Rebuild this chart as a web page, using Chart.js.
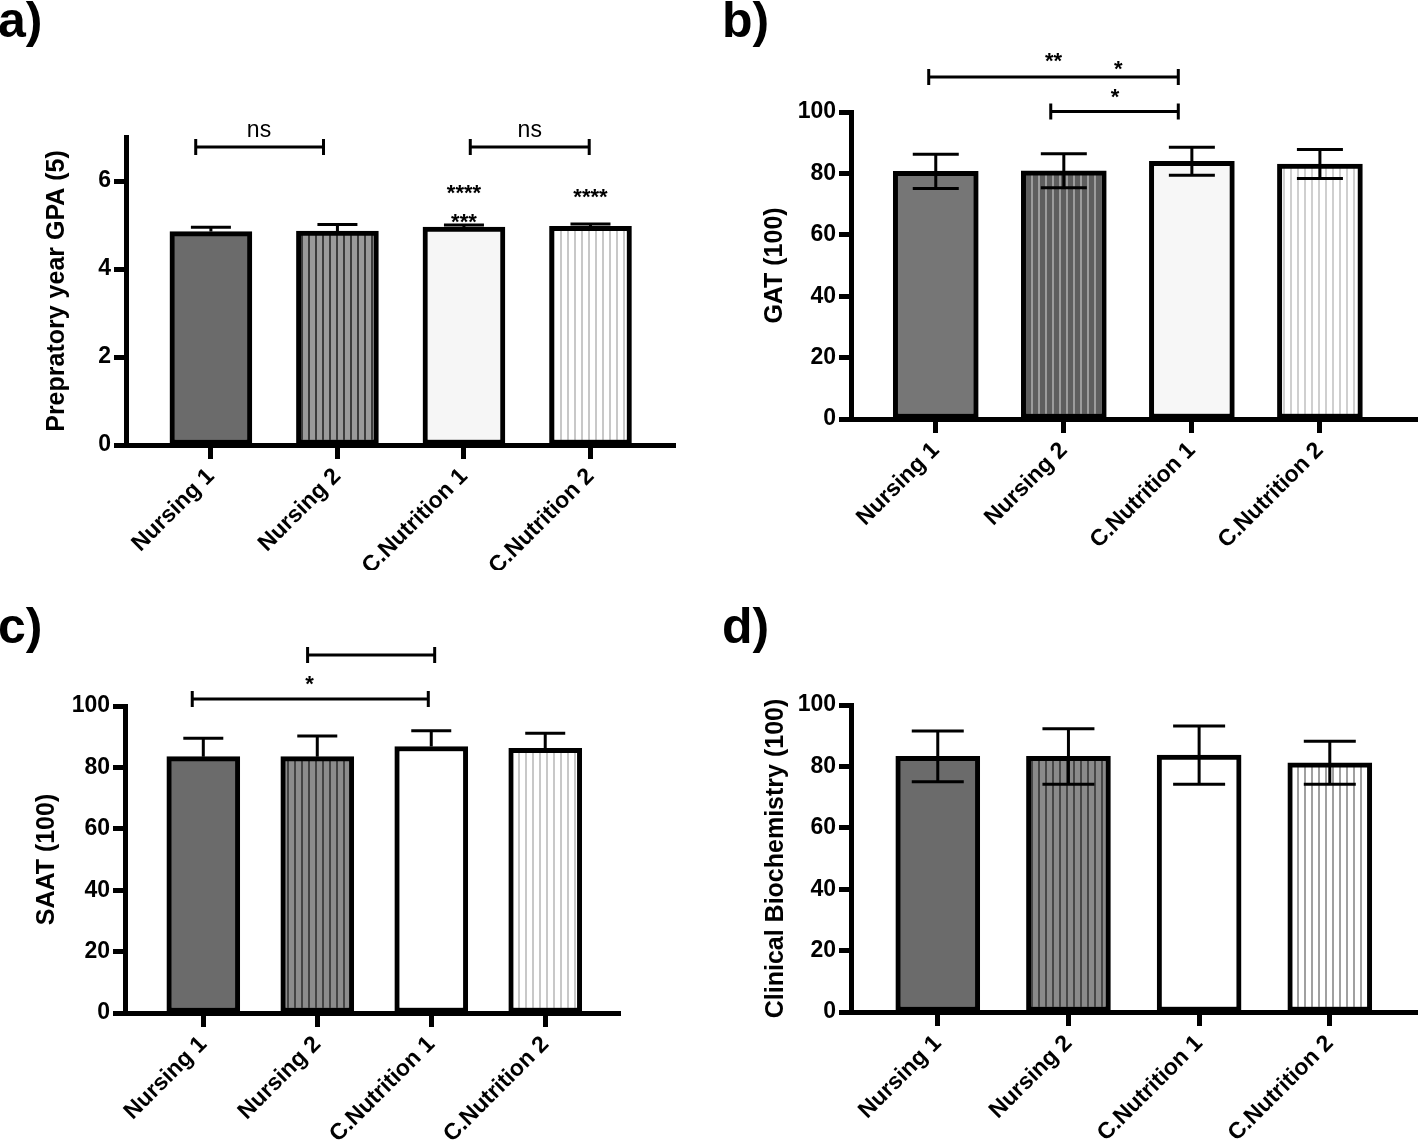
<!DOCTYPE html>
<html>
<head>
<meta charset="utf-8">
<script src="https://cdn.jsdelivr.net/npm/chart.js@4.4.1/dist/chart.umd.min.js"></script>
<style>
  body { margin: 0; background: #fff; width: 1418px; height: 1140px; position: relative; overflow: hidden; font-family: "Liberation Sans", Arial, sans-serif; }
  .panel { position: absolute; width: 709px; height: 570px; }
  .tag { position: absolute; font-weight: bold; font-size: 50px; line-height: 1; }
</style>
</head>
<body>
<div class="tag" style="left:-2px;top:-5px">a)</div>
<div class="tag" style="left:722px;top:-5px">b)</div>
<div class="tag" style="left:-2px;top:601px">c)</div>
<div class="tag" style="left:722px;top:601px">d)</div>
<div class="panel" style="left:0;top:0"><canvas id="chartA" width="709" height="570"></canvas></div>
<div class="panel" style="left:709px;top:0"><canvas id="chartB" width="709" height="570"></canvas></div>
<div class="panel" style="left:0;top:570px"><canvas id="chartC" width="709" height="570"></canvas></div>
<div class="panel" style="left:709px;top:570px"><canvas id="chartD" width="709" height="570"></canvas></div>
<script>
var categories = ['Nursing 1', 'Nursing 2', 'C.Nutrition 1', 'C.Nutrition 2'];

// a) preparatory year GPA, mean and SD
var gpaMean = [4.85, 4.86, 4.95, 4.97];
var gpaSD = [0.10, 0.15, 0.05, 0.05];
var gpaTicks = [0, 2, 4, 6];
// b) GAT
var gatMean = [80.65, 80.85, 83.95, 83.05];
var gatSD = [5.55, 5.55, 4.55, 4.75];
// c) SAAT
var saatMean = [83.5, 83.5, 86.8, 86.2];
var saatSD = [6.0, 6.7, 5.1, 4.9];
// d) clinical biochemistry
var bioMean = [83.25, 83.25, 83.7, 81.2];
var bioSD = [8.25, 9.05, 9.5, 7.0];
var scoreTicks = [0, 20, 40, 60, 80, 100];

// significance brackets [from, to, y] and marks [x, y, text], in axis units
var gpaBrackets = [[0.88, 1.89, 6.77], [3.05, 3.99, 6.77]];
var gpaMarks = [[1.38, 7.13, 'ns'], [3.52, 7.13, 'ns'], [3, 5.85, '****'], [3, 5.2, '***'], [4, 5.76, '****']];
var gatBrackets = [[0.945, 2.894, 111.4], [1.898, 2.894, 100.2]];
var gatMarks = [[1.92, 118.3, '**'], [2.425, 115.7, '*'], [2.40, 106.6, '*']];
var saatBrackets = [[1.915, 3.03, 116.6], [0.903, 2.974, 102.3]];
var saatMarks = [[1.933, 109.1, '*']];

var FONT = '"Liberation Sans", Arial, sans-serif';
Chart.defaults.font.family = FONT;
Chart.defaults.color = '#000';

function stripes(base, line, period, lw) {
  var c = document.createElement('canvas');
  c.width = period; c.height = 4;
  var g = c.getContext('2d');
  g.fillStyle = base; g.fillRect(0, 0, period, 4);
  g.fillStyle = line; g.fillRect(0, 0, lw, 4);
  return g.createPattern(c, 'repeat');
}

function annotate(mean, sd, both, capW, brackets, marks) {
  return {
    id: 'annot',
    afterDatasetsDraw: function(chart) {
      var ctx = chart.ctx, xs = chart.scales.x, ys = chart.scales.y;
      ctx.save();
      ctx.strokeStyle = '#000';
      ctx.lineWidth = 3;
      // error bars
      mean.forEach(function(m, i) {
        var x = xs.getPixelForValue(i + 1);
        var top = ys.getPixelForValue(m + sd[i]);
        var bot = ys.getPixelForValue(both ? m - sd[i] : m);
        ctx.beginPath();
        ctx.moveTo(x, top); ctx.lineTo(x, bot);
        ctx.moveTo(x - capW / 2, top); ctx.lineTo(x + capW / 2, top);
        if (both) { ctx.moveTo(x - capW / 2, bot); ctx.lineTo(x + capW / 2, bot); }
        ctx.stroke();
      });
      // brackets
      brackets.forEach(function(b) {
        var x1 = xs.getPixelForValue(b[0]), x2 = xs.getPixelForValue(b[1]), y = ys.getPixelForValue(b[2]);
        ctx.beginPath();
        ctx.moveTo(x1, y); ctx.lineTo(x2, y);
        ctx.moveTo(x1, y - 8); ctx.lineTo(x1, y + 8);
        ctx.moveTo(x2, y - 8); ctx.lineTo(x2, y + 8);
        ctx.stroke();
      });
      ctx.fillStyle = '#000';
      ctx.textAlign = 'center';
      ctx.textBaseline = 'alphabetic';
      marks.forEach(function(m) {
        var star = m[2].charAt(0) == '*';
        ctx.font = (star ? 'bold 22px ' : '23px ') + FONT;
        var y = ys.getPixelForValue(m[1]) + (star ? 12.5 : 6);
        ctx.fillText(m[2], xs.getPixelForValue(m[0]), y);
      });
      ctx.restore();
    }
  };
}

function panel(id, o) {
  var axisGrid = { offset: false, drawOnChartArea: false, drawTicks: true, tickWidth: 5, tickColor: '#000' };
  new Chart(document.getElementById(id), {
    type: 'bar',
    data: {
      datasets: [{
        data: o.mean.map(function(v, i) { return { x: i + 1, y: v }; }),
        backgroundColor: o.fills,
        borderColor: '#000',
        borderWidth: 5,
        borderSkipped: false,
        barThickness: o.barW
      }]
    },
    options: {
      responsive: false,
      animation: false,
      events: [],
      layout: { padding: o.pad },
      plugins: { legend: { display: false }, tooltip: { enabled: false } },
      scales: {
        x: {
          type: 'linear', offset: false, min: o.xMin, max: o.xMax,
          afterBuildTicks: function(s) { s.ticks = categories.map(function(c, i) { return { value: i + 1 }; }); },
          afterFit: function(s) { s.height = o.xH; },
          grid: Object.assign({ tickLength: 14 }, axisGrid),
          border: { display: true, color: '#000', width: 5 },
          ticks: {
            autoSkip: false, minRotation: 45, maxRotation: 45, padding: 4, color: '#000',
            font: { size: 23, weight: 'bold' },
            callback: function(v) { return categories[v - 1]; }
          }
        },
        y: {
          min: 0, max: o.yMax,
          afterBuildTicks: function(s) { s.ticks = o.yTicks.map(function(v) { return { value: v }; }); },
          afterFit: function(s) { s.width = o.yW; },
          grid: Object.assign({ tickLength: 12 }, axisGrid),
          border: { display: true, color: '#000', width: 5 },
          ticks: { padding: 3, color: '#000', font: { size: 23, weight: 'bold' } },
          title: { display: true, text: o.title, color: '#000', padding: 0, font: { size: 25, weight: 'bold' } }
        }
      }
    },
    plugins: [annotate(o.mean, o.sd, o.both, o.capW, o.brackets, o.marks)]
  });
}

panel('chartA', {
  mean: gpaMean, sd: gpaSD, both: false, capW: 40, brackets: gpaBrackets, marks: gpaMarks,
  yMax: 7, yTicks: gpaTicks, title: 'Prepratory year GPA (5)',
  xMin: 0.329, xMax: 4.668, barW: 82, yW: 84, xH: 125,
  pad: { left: 42, top: 137, right: 34, bottom: 0 },
  fills: ['#6b6b6b', stripes('#9a9a9a', '#3c3c3c', 7, 2), '#f6f6f6', stripes('#ffffff', '#c8c8c8', 7, 2)]
});
panel('chartB', {
  mean: gatMean, sd: gatSD, both: true, capW: 46, brackets: gatBrackets, marks: gatMarks,
  yMax: 100, yTicks: scoreTicks, title: 'GAT (100)',
  xMin: 0.338, xMax: 4.766, barW: 85, yW: 91, xH: 151,
  pad: { left: 51, top: 112, right: 0, bottom: 0 },
  fills: ['#767676', stripes('#5e5e5e', '#9c9c9c', 7, 2), '#f7f7f7', stripes('#ffffff', '#cfcfcf', 7, 2)]
});
panel('chartC', {
  mean: saatMean, sd: saatSD, both: false, capW: 40, brackets: saatBrackets, marks: saatMarks,
  yMax: 100, yTicks: scoreTicks, title: 'SAAT (100)',
  xMin: 0.313, xMax: 4.656, barW: 73, yW: 93, xH: 127,
  pad: { left: 32, top: 136, right: 89, bottom: 0 },
  fills: ['#6b6b6b', stripes('#8c8c8c', '#444444', 7, 2), '#ffffff', stripes('#ffffff', '#c8c8c8', 7, 2)]
});
panel('chartD', {
  mean: bioMean, sd: bioSD, both: true, capW: 52, brackets: [], marks: [],
  yMax: 100, yTicks: scoreTicks, title: 'Clinical Biochemistry (100)',
  xMin: 0.336, xMax: 4.675, barW: 84, yW: 90, xH: 128,
  pad: { left: 52, top: 135, right: 0, bottom: 0 },
  fills: ['#6b6b6b', stripes('#8a8a8a', '#474747', 7, 2), '#ffffff', stripes('#ffffff', '#a0a0a0', 7, 2)]
});
</script>
</body>
</html>
